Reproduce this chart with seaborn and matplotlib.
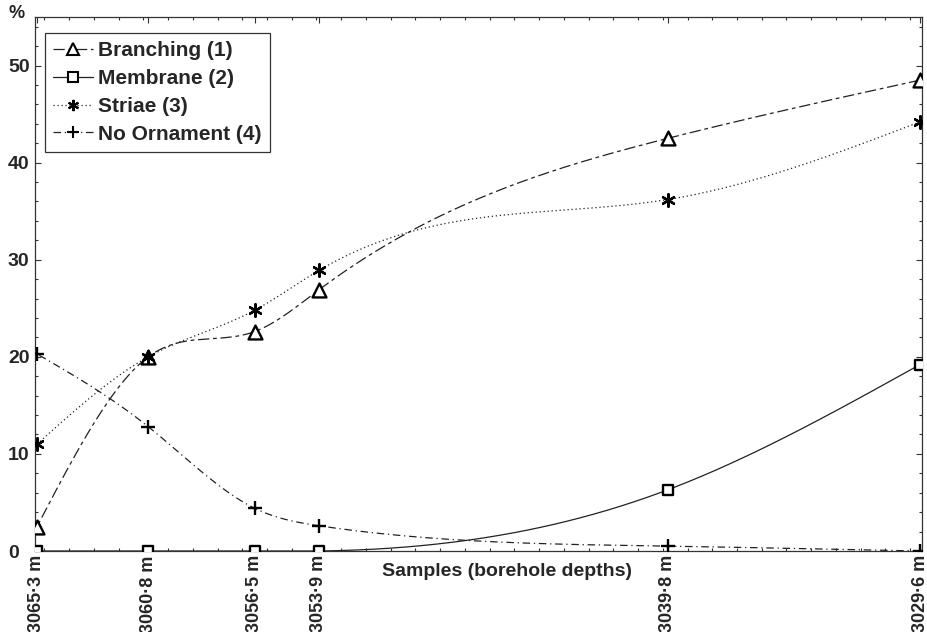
import numpy as np
import pandas as pd
import matplotlib
matplotlib.use("Agg")
import matplotlib.pyplot as plt
from matplotlib.lines import Line2D
from matplotlib.ticker import MultipleLocator, FixedLocator
import seaborn as sns

# ---- data ----
depths = [3065.3, 3060.8, 3056.5, 3053.9, 3039.8, 3029.6]
depth_labels = ["3065·3 m", "3060·8 m", "3056·5 m", "3053·9 m", "3039·8 m", "3029·6 m"]
branching = [2.5, 20.0, 22.6, 26.9, 42.5, 48.5]
membrane = [0.0, 0.0, 0.0, 0.0, 6.3, 19.2]
striae = [11.0, 20.0, 24.8, 28.9, 36.2, 44.2]
no_ornament = [20.3, 12.8, 4.4, 2.6, 0.5, 0.0]
series_names = ["Branching (1)", "Membrane (2)", "Striae (3)", "No Ornament (4)"]
y_ticks = [0, 10, 20, 30, 40, 50]

sns.set_style("ticks")
plt.rcParams["font.family"] = ["Liberation Sans", "DejaVu Sans"]
plt.rcParams["font.weight"] = "bold"


def natural_spline(x, y, num=400):
    x = np.asarray(x, float)
    y = np.asarray(y, float)
    order = np.argsort(x)
    x, y = x[order], y[order]
    n = len(x)
    h = np.diff(x)
    A = np.zeros((n, n))
    b = np.zeros(n)
    A[0, 0] = 1
    A[-1, -1] = 1
    for i in range(1, n - 1):
        A[i, i - 1] = h[i - 1]
        A[i, i] = 2 * (h[i - 1] + h[i])
        A[i, i + 1] = h[i]
        b[i] = 6 * ((y[i + 1] - y[i]) / h[i] - (y[i] - y[i - 1]) / h[i - 1])
    M = np.linalg.solve(A, b)
    xs = np.linspace(x[0], x[-1], num)
    idx = np.clip(np.searchsorted(x, xs) - 1, 0, n - 2)
    x0, x1 = x[idx], x[idx + 1]
    hh = x1 - x0
    t0 = x1 - xs
    t1 = xs - x0
    ys = (M[idx] * t0 ** 3 / (6 * hh) + M[idx + 1] * t1 ** 3 / (6 * hh)
          + (y[idx] / hh - M[idx] * hh / 6) * t0
          + (y[idx + 1] / hh - M[idx + 1] * hh / 6) * t1)
    return xs, ys


fig = plt.figure(figsize=(9.28, 6.32), dpi=100)
ax = fig.add_axes([35 / 928, 1 - 551 / 632, (922 - 35) / 928, (551 - 17) / 632])

values = [branching, membrane, striae, no_ornament]
markers = ["^", "s", (6, 2, 0), "+"]
msizes = [10, 7.5, 9, 10]
dashes = [(9, 3, 3, 3), None, (1, 2.2), (6, 3, 1, 3)]
lcol = "#222222"

handles = []
for name, vals, mk, ms, ds in zip(series_names, values, markers, msizes, dashes):
    xs, ys = natural_spline(depths, vals)
    if name.startswith("Membrane"):
        ys = np.clip(ys, 0, None)
    ln, = ax.plot(xs, ys, color=lcol, lw=0.9, zorder=2)
    if ds is not None:
        ln.set_dashes(ds)
    df = pd.DataFrame({"depth": depths, "value": vals})
    if mk in ("+", (6, 2, 0)):
        sns.scatterplot(data=df, x="depth", y="value", marker=mk, s=ms ** 2,
                        color="black", linewidth=1.7, ax=ax, zorder=3)
    else:
        sns.scatterplot(data=df, x="depth", y="value", marker=mk, s=ms ** 2,
                        facecolor="white", edgecolor="black", linewidth=1.7,
                        ax=ax, zorder=3)
    h = Line2D([], [], color=lcol, lw=0.9, marker=mk, markersize=ms * 0.9,
               markerfacecolor="white" if mk in ("^", "s") else "black",
               markeredgecolor="black", markeredgewidth=1.5)
    if ds is not None:
        h.set_dashes(ds)
    handles.append(h)

ax.set_xlim(3065.38, 3029.52)
ax.set_ylim(0, 55)
ax.xaxis.set_major_locator(FixedLocator(depths))
ax.set_xticklabels(depth_labels, rotation=90, fontsize=13, fontweight="bold")
ax.xaxis.set_minor_locator(MultipleLocator(1))
ax.set_yticks(y_ticks)
ax.yaxis.set_minor_locator(MultipleLocator(2))
ax.set_yticklabels([str(v) for v in y_ticks], fontsize=14, fontweight="bold")
for lab in ax.get_yticklabels():
    lab.set_horizontalalignment("left")
ax.tick_params(axis="both", which="both", direction="in", top=True, right=True,
               color="#333333", width=0.8)
ax.tick_params(axis="x", which="major", length=4, pad=3)
ax.tick_params(axis="y", which="major", length=4, pad=19.5)
ax.tick_params(axis="both", which="minor", length=2.5)
ax.set_xlabel("")
ax.set_ylabel("")
for sp in ax.spines.values():
    sp.set_visible(True)
    sp.set_linewidth(0.9)
    sp.set_color("#333333")

leg = ax.legend(handles, series_names, loc="upper left", bbox_to_anchor=(0.0113, 0.970),
                frameon=True, fancybox=False, edgecolor="#333333", framealpha=1,
                prop={"weight": "bold", "size": 15}, handlelength=1.9,
                handletextpad=0.25, labelspacing=0.42, borderpad=0.4, borderaxespad=0)
leg.get_frame().set_linewidth(0.9)

fig.text(507 / 928, 1 - 572 / 632, "Samples (borehole depths)", ha="center", va="center",
         fontsize=14, fontweight="bold")
fig.text(17 / 928, 1 - 13 / 632, "%", ha="center", va="center", fontsize=13, fontweight="bold")

fig.savefig("out.png", dpi=100, facecolor="white")
